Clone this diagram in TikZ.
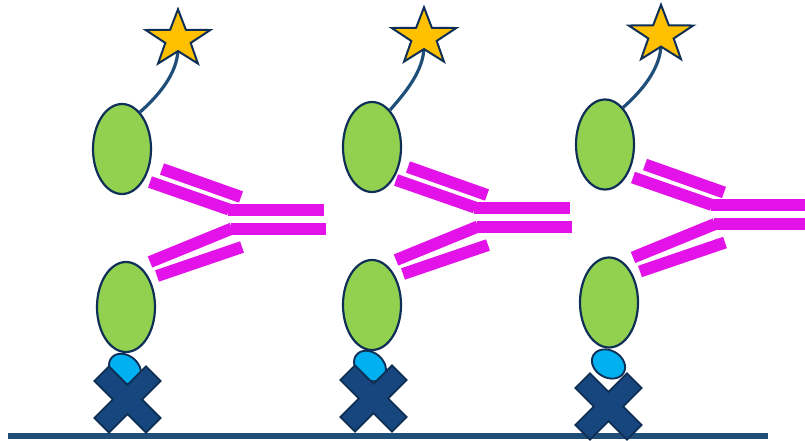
\documentclass[tikz,border=0pt]{standalone}
\usetikzlibrary{shapes.geometric}
\definecolor{leafgreen}{HTML}{92D050}
\definecolor{navyedge}{HTML}{0F2F57}
\definecolor{abmagenta}{RGB}{226,18,232}
\definecolor{goldstar}{HTML}{FFC000}
\definecolor{linkblue}{HTML}{1F4E79}
\definecolor{skyblue}{HTML}{00B0F0}
\definecolor{crossblue}{HTML}{17467E}
\definecolor{crossedge}{HTML}{0E2D52}
\tikzset{
  antigenblob/.style={ellipse, draw=navyedge, line width=2.2pt, fill=leafgreen,
    minimum width=58pt, minimum height=90pt, inner sep=0pt},
  tagblob/.style={ellipse, draw=navyedge, line width=1.9pt, fill=skyblue,
    minimum width=35pt, minimum height=27pt, inner sep=0pt},
  chainbar/.style={draw=abmagenta, line width=12pt, line cap=butt},
  stembar/.style={draw=abmagenta, line width=12pt, line cap=butt},
  starbody/.style={draw=navyedge, line width=2pt, fill=goldstar, line join=miter},
  tetherline/.style={draw=linkblue, line width=3.2pt},
  crossbody/.style={draw=crossedge, line width=1.8pt, fill=crossblue, line join=miter},
  supportline/.style={draw=linkblue, line width=6.6pt, line cap=butt}
}
\begin{document}
\begin{tikzpicture}[x=1pt, y=-1pt]
\useasboundingbox (0,0) rectangle (805,441);

% solid support
\coordinate (surfL) at (8,436);
\coordinate (surfR) at (768,436);
\draw[supportline] (surfL) -- (surfR);

% three identical sandwich complexes
\foreach \u/\ox/\oy/\tx/\ex/\ey/\ea/\xx/\xy in
  {1/0/0/0/125/369/-40/127.5/399.5,
   2/246/-2/4/370/366/-40/373.5/398.5,
   3/483/-4.5/0/608.5/364/-30/608.5/406.5}{
  \begin{scope}[shift={(\ox,\oy)}]
    % antigen domains
    \node[antigenblob] (top\u) at (122+\tx,149) {};
    \node[antigenblob] (bot\u) at (126,307) {};
    % antibody: two arms and the stem
    \draw[chainbar] (162,169) -- (241,197);
    \draw[chainbar] (150,182) -- (229,209.5);
    \draw[stembar]  (228,209.5) -- (324,209.5);
    \draw[chainbar] (150,262) -- (232,228.5);
    \draw[stembar]  (231,228.5) -- (326,228.5);
    \draw[chainbar] (157,276) -- (242,247);
    % tether to the label
    \coordinate (tip\u) at (178,48);
    \coordinate (ca\u) at (178,74);
    \coordinate (cb\u) at (157,97);
    \draw[tetherline] (tip\u) .. controls (ca\u) and (cb\u) .. (top\u.64);
    % star label
    \begin{scope}[shift={(178,39.3)}, xscale=1.13]
      \draw[starbody] (270:30)
        \foreach \j in {0,...,4}{ -- ({306+72*\j}:11.8) -- ({342+72*\j}:30) } -- cycle;
    \end{scope}
  \end{scope}
  % capture tag and anchor cross
  \node[tagblob, rotate=\ea] (tag\u) at (\ex,\ey) {};
  \begin{scope}[shift={(\xx,\xy)}, rotate=45]
    \coordinate (cross\u) at (0,0);
    \draw[crossbody] (-10.3,-36.5) -- (10.3,-36.5) -- (10.3,-10.3) -- (36.5,-10.3)
      -- (36.5,10.3) -- (10.3,10.3) -- (10.3,36.5) -- (-10.3,36.5) -- (-10.3,10.3)
      -- (-36.5,10.3) -- (-36.5,-10.3) -- (-10.3,-10.3) -- cycle;
  \end{scope}
}
\end{tikzpicture}
\end{document}
